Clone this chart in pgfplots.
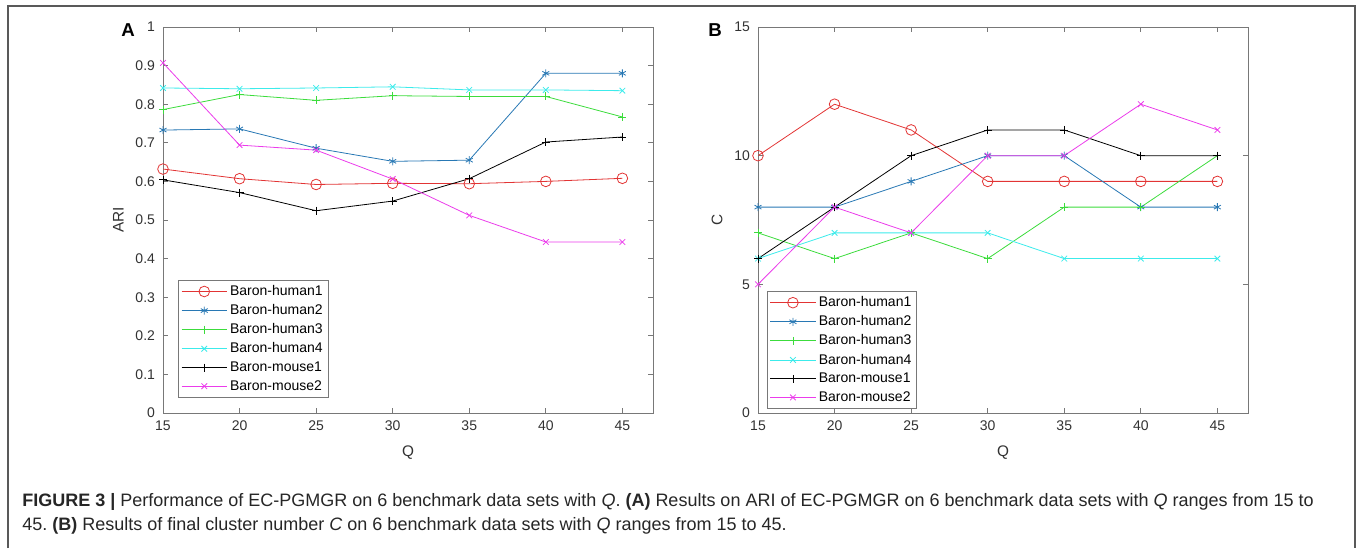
\documentclass[border=0pt]{standalone}
\usepackage{pgfplots}
\pgfplotsset{compat=1.18}
\usepackage{fontspec}
\setmainfont{Liberation Sans}
\definecolor{cred}{RGB}{226,52,52}
\definecolor{cblue}{RGB}{40,120,180}
\definecolor{cgreen}{RGB}{60,220,60}
\definecolor{ccyan}{RGB}{60,235,235}
\definecolor{cmag}{RGB}{235,60,235}
\definecolor{axgray}{RGB}{120,120,120}
\definecolor{txt}{RGB}{50,50,50}

\pgfplotsset{
  panel/.style={
    scale only axis, width=367.5pt, height=289.5pt,
    anchor=north west,
    xmin=15, xmax=47, xtick={15,20,...,45},
    axis line style={axgray}, tick style={axgray, line width=0.5pt},
    major tick length=4pt,
    tick align=inside,
    tick label style={font=\fontsize{10.5}{12}\selectfont, text=txt},
    xticklabel style={yshift=-2.5pt},
    yticklabel style={xshift=-2.5pt},
    label style={font=\fontsize{11.5}{13}\selectfont, text=txt},
    xlabel style={yshift=-4pt},
    ylabel style={yshift=2pt},
    /pgf/number format/assume math mode=true,
    xlabel={Q},
    legend cell align=left,
    legend style={draw=axgray, fill=white, font=\fontsize{10.5}{12}\selectfont,
      anchor=north west, row sep=1.2pt, inner sep=2pt},
    legend image code/.code={\draw[mark repeat=2,mark phase=2] plot coordinates {(0cm,0cm) (0.6cm,0cm) (1.2cm,0cm)};},
    every axis plot/.append style={line width=0.6pt, mark size=3pt},
  },
}

\begin{document}
\frenchspacing
\begin{tikzpicture}[x=0.75pt, y=-0.75pt]
\path (0,0) rectangle (1360,548);
\draw[gray!70!black, line width=0.9pt] (8,548) -- (8,6) -- (1355,6) -- (1355,548);

% panel A: ARI
\begin{axis}[panel, at={(122.25pt,-20.25pt)},
  ymin=0, ymax=1, ytick={0,0.1,...,1.0},
  yticklabel style={/pgf/number format/fixed},
  ylabel={ARI},
  legend style={at={(0.031,0.345)}},
]
\addplot[cred, mark=o, mark size=4pt] coordinates {(15,0.632) (20,0.607) (25,0.592) (30,0.595) (35,0.594) (40,0.600) (45,0.608)};
\addlegendentry{Baron-human1}
\addplot[cblue, mark=asterisk] coordinates {(15,0.733) (20,0.736) (25,0.686) (30,0.652) (35,0.655) (40,0.880) (45,0.880)};
\addlegendentry{Baron-human2}
\addplot[cgreen, mark=+] coordinates {(15,0.786) (20,0.825) (25,0.810) (30,0.822) (35,0.820) (40,0.820) (45,0.767)};
\addlegendentry{Baron-human3}
\addplot[ccyan, mark=x] coordinates {(15,0.842) (20,0.840) (25,0.842) (30,0.845) (35,0.837) (40,0.837) (45,0.835)};
\addlegendentry{Baron-human4}
\addplot[black, mark=+] coordinates {(15,0.604) (20,0.571) (25,0.524) (30,0.549) (35,0.607) (40,0.702) (45,0.715)};
\addlegendentry{Baron-mouse1}
\addplot[cmag, mark=x] coordinates {(15,0.907) (20,0.694) (25,0.681) (30,0.606) (35,0.512) (40,0.443) (45,0.443)};
\addlegendentry{Baron-mouse2}
\end{axis}

% panel B: cluster number C
\begin{axis}[panel, at={(568.5pt,-20.25pt)},
  ymin=0, ymax=15, ytick={0,5,10,15},
  ylabel={C},
  legend style={at={(0.018,0.316)}},
]
\addplot[cred, mark=o, mark size=4pt] coordinates {(15,10) (20,12) (25,11) (30,9) (35,9) (40,9) (45,9)};
\addlegendentry{Baron-human1}
\addplot[cblue, mark=asterisk] coordinates {(15,8) (20,8) (25,9) (30,10) (35,10) (40,8) (45,8)};
\addlegendentry{Baron-human2}
\addplot[cgreen, mark=+] coordinates {(15,7) (20,6) (25,7) (30,6) (35,8) (40,8) (45,10)};
\addlegendentry{Baron-human3}
\addplot[ccyan, mark=x] coordinates {(15,6) (20,7) (25,7) (30,7) (35,6) (40,6) (45,6)};
\addlegendentry{Baron-human4}
\addplot[black, mark=+] coordinates {(15,6) (20,8) (25,10) (30,11) (35,11) (40,10) (45,10)};
\addlegendentry{Baron-mouse1}
\addplot[cmag, mark=x] coordinates {(15,5) (20,8) (25,7) (30,10) (35,10) (40,12) (45,11)};
\addlegendentry{Baron-mouse2}
\end{axis}

\node[font=\fontsize{14}{16}\selectfont\bfseries] at (128,30) {A};
\node[font=\fontsize{14}{16}\selectfont\bfseries] at (715,30) {B};

\node[anchor=base west, inner sep=0pt, font=\fontsize{13.5}{16}\selectfont, text=black!85] at (22,506)
  {\textbf{FIGURE 3 |} Performance of EC-PGMGR on 6 benchmark data sets with \textit{Q}. \textbf{(A)} Results on ARI of EC-PGMGR on 6 benchmark data sets with \textit{Q} ranges from 15 to};
\node[anchor=base west, inner sep=0pt, font=\fontsize{13.5}{16}\selectfont, text=black!85] at (22,530)
  {45. \textbf{(B)} Results of final cluster number \textit{C} on 6 benchmark data sets with \textit{Q} ranges from 15 to 45.};
\end{tikzpicture}
\end{document}
